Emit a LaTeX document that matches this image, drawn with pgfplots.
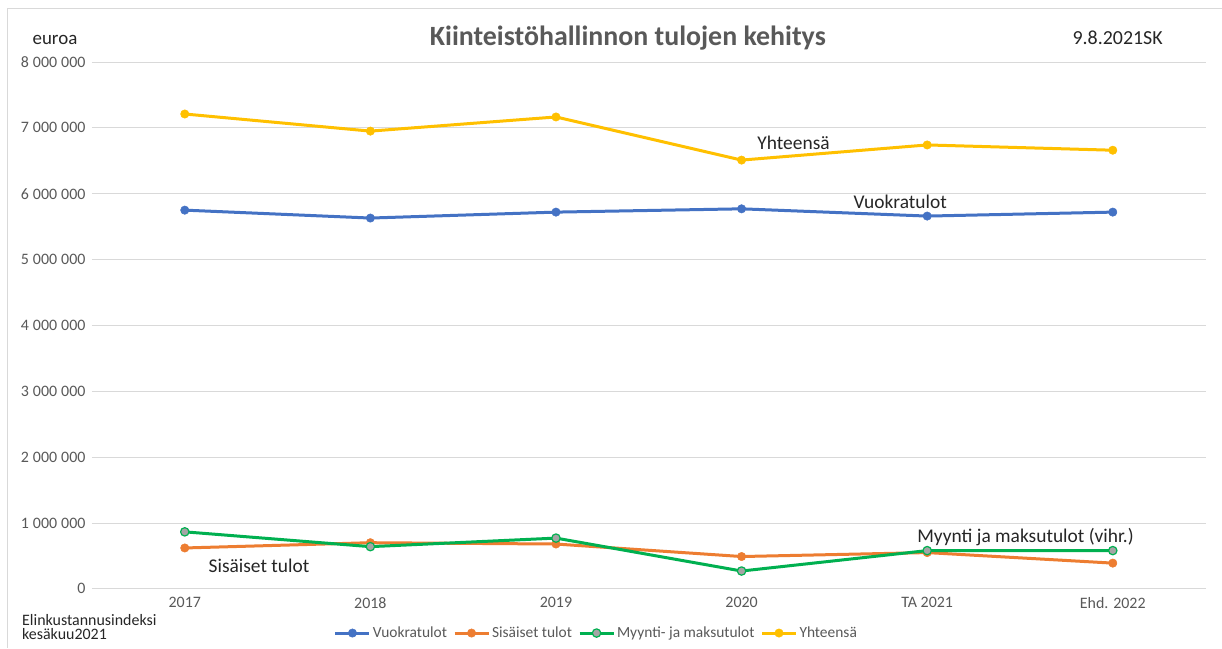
\documentclass[border=0pt]{standalone}
\usepackage{fontspec}
\setmainfont{Carlito}
\usepackage{pgfplots}
\pgfplotsset{compat=1.18}
\definecolor{cblue}{HTML}{4472C4}
\definecolor{corange}{HTML}{ED7D31}
\definecolor{cgreen}{HTML}{00B050}
\definecolor{cyellow}{HTML}{FFC000}
\definecolor{cgrey}{HTML}{A5A5A5}
\definecolor{txt}{HTML}{595959}
\definecolor{gridc}{HTML}{D9D9D9}

\pgfplotstableread{
x  vuokra   sisaiset  myynti   yht
0  5750000  620000    865000   7210000
1  5630000  700000    640000   6950000
2  5720000  680000    770000   7165000
3  5770000  490000    270000   6510000
4  5660000  550000    580000   6740000
5  5720000  390000    580000   6660000
}\tulot

\begin{document}
\begin{tikzpicture}[x=1bp,y=1bp]
\path[fill=white] (0,0) rectangle (1222,648);
\draw[gridc, line width=0.8bp] (7,0) -- (7,640) -- (1222,640);
\begin{axis}[
    at={(92bp,59bp)}, anchor=south west,
    width=1114bp, height=527bp, scale only axis,
    xmin=-0.5, xmax=5.5, ymin=0, ymax=8000000,
    xtick={0,...,5},
    xticklabels={2017,2018,2019,2020,TA 2021,Ehd. 2022},
    ytick={0,1000000,...,8000000},
    scaled y ticks=false,
    yticklabel style={/pgf/number format/fixed, /pgf/number format/1000 sep={\hspace{0.25em}}, /pgf/number format/assume math mode=true, xshift=-3bp},
    ticklabel style={font=\fontsize{16}{18}\selectfont, text=txt},
    xticklabel style={yshift=-5bp},
    axis line style={draw=none},
    major tick length=0pt,
    xmajorgrids=false, ymajorgrids, grid style={gridc, line width=0.8bp},
    every axis plot/.append style={mark=*, mark size=4.2bp, line width=3bp, line join=round},
    legend style={at={(0.453,-0.084)}, anchor=center, legend columns=4, draw=none,
        font=\fontsize{15.5}{17}\selectfont, text=txt,
        /tikz/every even column/.append style={column sep=4bp},
        inner sep=0pt},
    legend image code/.code={\draw[mark repeat=2, mark phase=2] plot coordinates {(0bp,0bp) (17bp,0bp) (34bp,0bp)};},
    legend cell align=left,
]
\addplot[cblue, mark options={fill=cblue, draw=cblue, line width=0.5bp}] table[x=x, y=vuokra] {\tulot};
\addlegendentry{Vuokratulot}
\addplot[corange, mark options={fill=corange, draw=corange, line width=0.5bp}] table[x=x, y=sisaiset] {\tulot};
\addlegendentry{Sisäiset tulot}
\addplot[cgreen, mark options={fill=cgrey, draw=cgreen, line width=1.2bp}] table[x=x, y=myynti] {\tulot};
\addlegendentry{Myynti- ja maksutulot}
\addplot[cyellow, mark options={fill=cyellow, draw=cyellow, line width=0.5bp}] table[x=x, y=yht] {\tulot};
\addlegendentry{Yhteensä}

\node[font=\fontsize{19.5}{21}\selectfont, text=black!85] at (axis cs:3.28,6770000) {Yhteensä};
\node[font=\fontsize{19.5}{21}\selectfont, text=black!85] at (axis cs:3.855,5875000) {Vuokratulot};
\node[font=\fontsize{19.5}{21}\selectfont, text=black!85] at (axis cs:0.40,350000) {Sisäiset tulot};
\node[font=\fontsize{19.5}{21}\selectfont, text=black!85] at (axis cs:4.53,790000) {Myynti ja maksutulot (vihr.)};
\end{axis}
\node[font=\fontsize{28}{30}\selectfont\bfseries, text=txt] at (628,610) {Kiinteistöhallinnon tulojen kehitys};
\node[font=\fontsize{19}{21}\selectfont, text=black!85] at (55,608) {euroa};
\node[font=\fontsize{20}{22}\selectfont, text=black!85] at (1118,610) {9.8.2021SK};
\node[font=\fontsize{16}{18}\selectfont, text=black!85, anchor=west, inner sep=0pt] at (22,28) {Elinkustannusindeksi};
\node[font=\fontsize{16}{18}\selectfont, text=black!85, anchor=west, inner sep=0pt] at (22,14) {kesäkuu2021};
\end{tikzpicture}
\end{document}
